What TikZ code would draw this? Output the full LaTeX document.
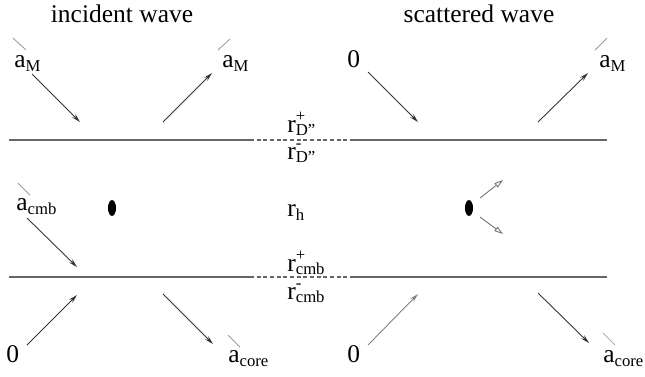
\documentclass[tikz,border=0pt]{standalone}
\usepackage{fontspec}
\setmainfont{Liberation Serif}
\usetikzlibrary{arrows.meta, positioning, shapes.geometric}

\newcommand{\lowsub}[2]{#1\raisebox{-2.6pt}{\fontsize{9.5}{10}\selectfont #2}}
\newcommand{\rlab}[2]{r\rlap{\raisebox{6pt}{\fontsize{9.5}{10}\selectfont #1}}\raisebox{-1.8pt}{\fontsize{9.5}{10}\selectfont #2}}

\begin{document}
\begin{tikzpicture}[x=0.02cm, y=-0.02cm, font=\fontsize{14.5}{17}\selectfont]

	\tikzset{
		lbl/.style={inner sep=0pt, anchor=base west},
		ray/.style={draw=black!80, line width=0.5pt, -{Stealth[length=5pt, width=2.6pt]}},
		sray/.style={draw=black!55, line width=0.5pt, -{Triangle[open, length=5pt, width=3pt]}},
		bound/.style={draw=black!60, line width=0.6pt},
		gap/.style={bound, dash pattern=on 2.2pt off 1.6pt},
		tick/.style={draw=black!45, line width=0.4pt},
		blob/.style={ellipse, fill=black, inner sep=0pt, minimum width=4.6pt, minimum height=9pt}
	}

	\useasboundingbox (0,0) rectangle (645,376);

	% titles
	\node[inner sep=0pt, anchor=base](t1) at (122,22){incident wave};
	\node[inner sep=0pt, anchor=base](t2) at (479,22){scattered wave};

	% boundaries
	\coordinate (d1) at (9,140);
	\coordinate (d2) at (250,140);
	\coordinate (d3) at (350,140);
	\coordinate (d4) at (607,140);
	\coordinate (c1) at (9,277);
	\coordinate (c2) at (250,277);
	\coordinate (c3) at (350,277);
	\coordinate (c4) at (607,277);

	\draw[bound] (d1)--(d2);
	\draw[gap] (d2)--(d3);
	\draw[bound] (d3)--(d4);
	\draw[bound] (c1)--(c2);
	\draw[gap] (c2)--(c3);
	\draw[bound] (c3)--(c4);

	% radii
	\node[lbl](rd1) at (287,132){\rlab{+}{D"}};
	\node[lbl](rd2) at (287,159){\rlab{-}{D"}};
	\node[lbl](rh) at (287,216){\lowsub{r}{h}};
	\node[lbl](rc1) at (287,271){\rlab{+}{cmb}};
	\node[lbl](rc2) at (287,299){\rlab{-}{cmb}};

	% incident wave
	\node[lbl](i1) at (14,67){\lowsub{a}{M}};
	\node[lbl](i2) at (222,67){\lowsub{a}{M}};
	\node[lbl](i3) at (16,210){\lowsub{a}{cmb}};
	\node[lbl](i4) at (6,362){0};
	\node[lbl](i5) at (228,362){\lowsub{a}{core}};
	\node[blob](h1) at (112,208){};

	\coordinate (p1) at (32,74);
	\coordinate (p2) at (80,122);
	\coordinate (p3) at (163,122);
	\coordinate (p4) at (212,73);
	\coordinate (p5) at (27,218);
	\coordinate (p6) at (77,267);
	\coordinate (p7) at (27,345);
	\coordinate (p8) at (77,295);
	\coordinate (p9) at (163,294);
	\coordinate (p10) at (213,344);

	\draw[ray] (p1)--(p2);
	\draw[ray] (p3)--(p4);
	\draw[ray] (p5)--(p6);
	\draw[ray] (p7)--(p8);
	\draw[ray] (p9)--(p10);

	\draw[tick] (13,38)--(26,50);
	\draw[tick] (218,50)--(230,39);
	\draw[tick] (18,183)--(30,195);
	\draw[tick] (228,335)--(240,347);

	% scattered wave
	\node[lbl](s1) at (347,67){0};
	\node[lbl](s2) at (599,67){\lowsub{a}{M}};
	\node[lbl](s3) at (347,362){0};
	\node[lbl](s4) at (603,362){\lowsub{a}{core}};
	\node[blob](h2) at (469,208){};

	\coordinate (q1) at (368,72);
	\coordinate (q2) at (418,122);
	\coordinate (q3) at (538,122);
	\coordinate (q4) at (588,73);
	\coordinate (q5) at (368,345);
	\coordinate (q6) at (418,294);
	\coordinate (q7) at (538,293);
	\coordinate (q8) at (589,343);
	\coordinate (q9) at (480,198);
	\coordinate (q10) at (503,180);
	\coordinate (q11) at (480,217);
	\coordinate (q12) at (503,234);

	\draw[ray] (q1)--(q2);
	\draw[ray] (q3)--(q4);
	\draw[ray, draw=black!50] (q5)--(q6);
	\draw[ray] (q7)--(q8);
	\draw[sray] (q9)--(q10);
	\draw[sray] (q11)--(q12);

	\draw[tick] (595,50)--(607,38);
	\draw[tick] (603,333)--(615,345);

\end{tikzpicture}
\end{document}
